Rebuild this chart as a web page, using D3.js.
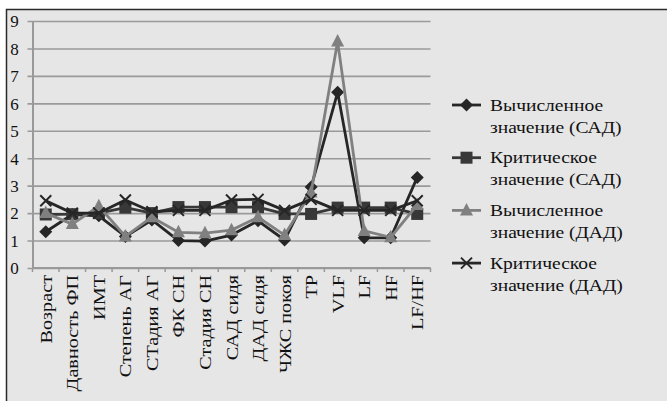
<!DOCTYPE html>
<html>
<head>
<meta charset="utf-8">
<script src="https://cdn.jsdelivr.net/npm/d3@7/dist/d3.min.js"></script>
<style>
  html, body { margin: 0; padding: 0; background: #fff; }
  svg { display: block; }
  text { font-family: "Liberation Serif", "Times New Roman", serif; fill: #111; }
</style>
</head>
<body>
<svg id="chart" width="667" height="401"></svg>
<script>
// Category labels along the x axis
const categories = ["Возраст", "Давность ФП", "ИМТ", "Степень АГ", "СТадия АГ", "ФК СН",
  "Стадия СН", "САД сидя", "ДАД сидя", "ЧЖС покоя", "ТР", "VLF", "LF", "HF", "LF/HF"];

// Series values
const calcSAD = [1.32, 1.95, 1.9, 1.15, 1.75, 1.0, 0.98, 1.2, 1.72, 1.02, 2.95, 6.4, 1.1, 1.1, 3.3];
const critSAD = [1.95, 1.96, 2.0, 2.2, 2.0, 2.22, 2.22, 2.22, 2.22, 1.97, 1.97, 2.2, 2.2, 2.2, 1.97];
const calcDAD = [2.0, 1.6, 2.25, 1.15, 1.85, 1.3, 1.27, 1.38, 1.85, 1.2, 2.75, 8.25, 1.35, 1.12, 2.3];
const critDAD = [2.45, 2.0, 2.0, 2.48, 2.05, 2.1, 2.1, 2.48, 2.5, 2.1, 2.5, 2.1, 2.1, 2.1, 2.45];

// Legend names and y tick values
const seriesNames = [
  ["Вычисленное", "значение (САД)"],
  ["Критическое", "значение (САД)"],
  ["Вычисленное", "значение (ДАД)"],
  ["Критическое", "значение (ДАД)"]
];
const yTicks = [0, 1, 2, 3, 4, 5, 6, 7, 8, 9];

const series = [
  { values: calcSAD, name: seriesNames[0], color: "#262626", marker: "diamond" },
  { values: critSAD, name: seriesNames[1], color: "#383838", marker: "square" },
  { values: calcDAD, name: seriesNames[2], color: "#808080", marker: "triangle" },
  { values: critDAD, name: seriesNames[3], color: "#262626", marker: "cross" }
];

const svg = d3.select("#chart");

// Chart area background and frame
svg.append("rect")
  .attr("x", 6.5).attr("y", 9.5).attr("width", 680).attr("height", 420)
  .attr("fill", "#e6e6e6").attr("stroke", "#2a2a2a").attr("stroke-width", 1.5);

const x = d3.scaleBand().domain(categories).range([32.5, 430.5]);
const y = d3.scaleLinear().domain([0, 9]).range([268, 21]);

// Horizontal gridlines
const yAxis = d3.axisLeft(y).tickValues(yTicks).tickSize(-(430.5 - 32.5)).tickSizeOuter(0).tickPadding(0)
  .tickFormat(d3.format("d"));
const gy = svg.append("g").attr("transform", "translate(32.5,0)").call(yAxis);
gy.select(".domain").attr("stroke", "#999").attr("stroke-width", 2);
gy.selectAll(".tick line").attr("stroke", "#9a9a9a").attr("stroke-width", 1.6).attr("x1", -5);
gy.selectAll(".tick text")
  .attr("x", -18).attr("text-anchor", "middle")
  .style("font-size", "17px").attr("dy", "0.34em");

// Category axis with ticks at band boundaries
const gx = svg.append("g").attr("transform", "translate(0,268)");
gx.append("line").attr("x1", 32.5).attr("x2", 430.5).attr("stroke", "#999").attr("stroke-width", 2);
const bounds = categories.map(c => x(c)).concat([x.range()[1]]);
gx.selectAll("line.tk").data(bounds).join("line").attr("class", "tk")
  .attr("x1", d => d).attr("x2", d => d).attr("y1", 0).attr("y2", 4)
  .attr("stroke", "#999").attr("stroke-width", 1.5);
gx.selectAll("text").data(categories).join("text")
  .attr("transform", d => `translate(${x(d) + x.bandwidth() / 2 + 6},7) rotate(-90) scale(1.19,1)`)
  .attr("text-anchor", "end")
  .style("font-size", "17px")
  .text(d => d);

// Marker shapes
function drawMarker(g, type, color, cx, cy) {
  if (type === "diamond") {
    g.append("path").attr("d", `M${cx},${cy - 6.5}L${cx + 6.5},${cy}L${cx},${cy + 6.5}L${cx - 6.5},${cy}Z`)
      .attr("fill", color);
  } else if (type === "square") {
    g.append("rect").attr("x", cx - 6).attr("y", cy - 6).attr("width", 12).attr("height", 12)
      .attr("fill", color);
  } else if (type === "triangle") {
    g.append("path").attr("d", `M${cx},${cy - 7.5}L${cx + 6.5},${cy + 5}L${cx - 6.5},${cy + 5}Z`)
      .attr("fill", color);
  } else {
    g.append("path").attr("d", `M${cx - 5.5},${cy - 5.5}L${cx + 5.5},${cy + 5.5}M${cx - 5.5},${cy + 5.5}L${cx + 5.5},${cy - 5.5}`)
      .attr("stroke", color).attr("stroke-width", 2).attr("fill", "none");
  }
}

const line = d3.line()
  .x((d, i) => x(categories[i]) + x.bandwidth() / 2)
  .y(d => y(d));

series.forEach(s => {
  const g = svg.append("g");
  g.append("path").datum(s.values).attr("d", line)
    .attr("fill", "none").attr("stroke", s.color).attr("stroke-width", 2.8)
    .attr("stroke-linejoin", "round");
  s.values.forEach((v, i) => drawMarker(g, s.marker, s.color,
    x(categories[i]) + x.bandwidth() / 2, y(v)));
});

// Legend
const lg = svg.append("g");
series.forEach((s, k) => {
  const cy = 105 + k * 52.7;
  const g = lg.append("g");
  g.append("line").attr("x1", 452).attr("x2", 481).attr("y1", cy).attr("y2", cy)
    .attr("stroke", s.color).attr("stroke-width", 2.8);
  drawMarker(g, s.marker, s.color, 466.5, cy);
  s.name.forEach((t, j) => {
    g.append("text").attr("transform", `translate(490,${cy + j * 22}) scale(1.15,1)`)
      .attr("dy", "0.34em")
      .style("font-size", "17px").text(t);
  });
});
</script>
</body>
</html>
